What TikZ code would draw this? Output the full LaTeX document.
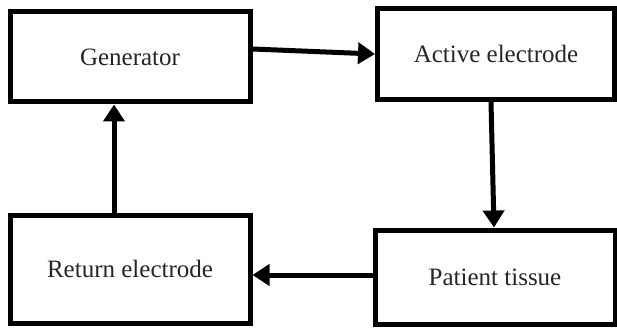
\documentclass[tikz,border=0pt]{standalone}
\usepackage{fontspec}
\setmainfont{Liberation Serif}
\usetikzlibrary{arrows.meta}
\tikzset{
  blockbox/.style={draw=black, line width=5pt, fill=white, inner sep=0pt,
    font=\fontsize{25}{30}\selectfont, text=black!85},
  flow/.style={line width=5pt, -{Triangle[length=17pt,width=21pt]}}
}
\begin{document}
\begin{tikzpicture}[x=1pt,y=1pt]
\fill[white] (0,0) rectangle (617,327);
\useasboundingbox (0,0) rectangle (617,327);
\node[blockbox, minimum width=240pt, minimum height=90pt] (gen) at (130,270) {Generator};
\node[blockbox, minimum width=237pt, minimum height=91pt] (act) at (496,273) {Active electrode};
\node[blockbox, minimum width=240pt, minimum height=108pt] (ret) at (130,58) {Return electrode};
\node[blockbox, minimum width=240pt, minimum height=94pt] (pat) at (495,50) {Patient tissue};
\draw[flow] ([yshift=8pt]gen.east) -- (act.west);
\draw[flow] ([xshift=-5pt]act.south) -- ([xshift=-1pt]pat.north);
\draw[flow] ([yshift=2pt]pat.west) -- ([yshift=-6pt]ret.east);
\draw[flow] ([xshift=-16pt]ret.north) -- ([xshift=-16pt]gen.south);
\end{tikzpicture}
\end{document}
